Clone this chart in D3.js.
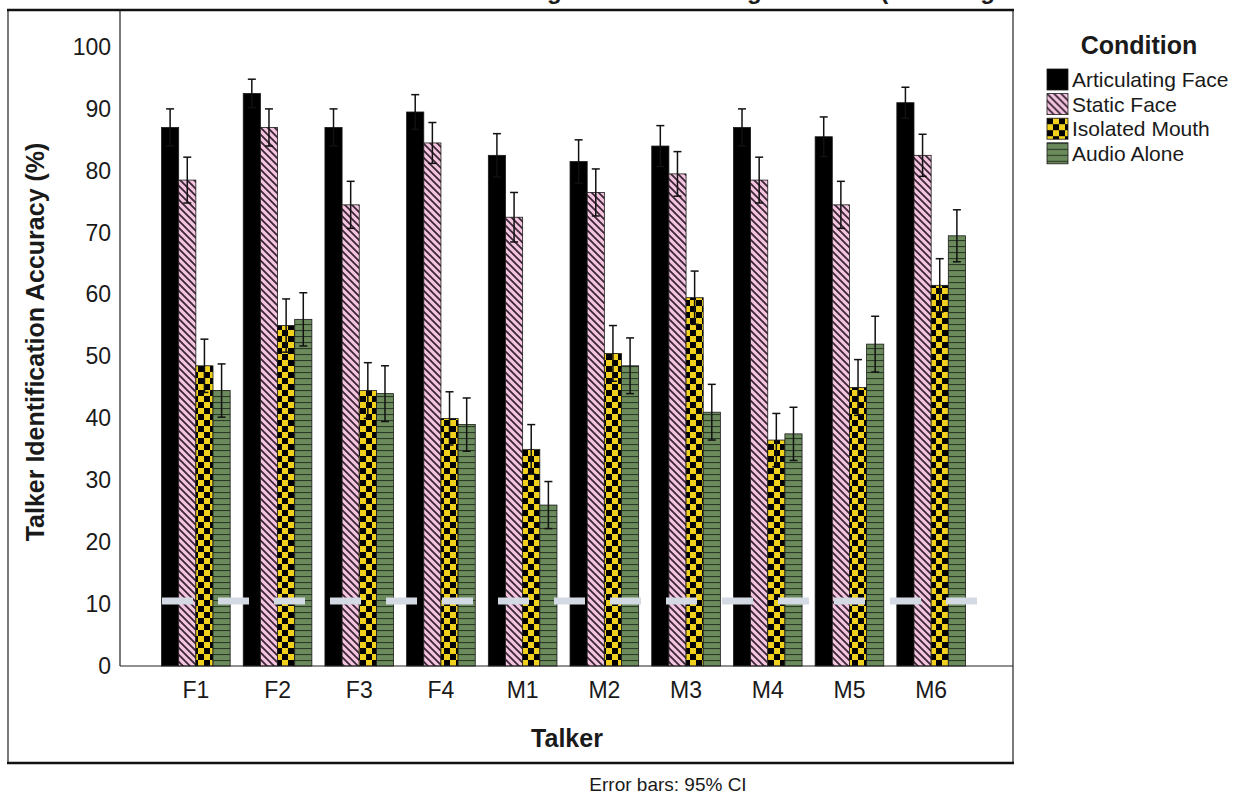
<!DOCTYPE html>
<html lang="en">
<head>
    <meta charset="UTF-8">
    <title>Talker Identification Accuracy</title>
    <script src="https://d3js.org/d3.v7.min.js"></script>
    <style>
        body { margin: 0; background: #fff; }
        text { font-family: "Liberation Sans", Arial, sans-serif; fill: #1a1a1a; }
    </style>
</head>
<body>
<script>
    const width  = 1236;
    const height = 796;

    // data
    const talkers    = ['F1', 'F2', 'F3', 'F4', 'M1', 'M2', 'M3', 'M4', 'M5', 'M6'];
    const conditions = ['Articulating Face', 'Static Face', 'Isolated Mouth', 'Audio Alone'];
    const articulating = [87, 92.5, 87, 89.5, 82.5, 81.5, 84, 87, 85.5, 91];
    const staticFace   = [78.5, 87, 74.5, 84.5, 72.5, 76.5, 79.5, 78.5, 74.5, 82.5];
    const mouth        = [48.5, 55, 44.5, 40, 35, 50.5, 59.5, 36.5, 45, 61.5];
    const audio        = [44.5, 56, 44, 39, 26, 48.5, 41, 37.5, 52, 69.5];
    const ciArticulating = [3, 2.3, 3, 2.8, 3.5, 3.5, 3.3, 3, 3.2, 2.5];
    const ciStatic       = [3.7, 3, 3.8, 3.3, 4, 3.8, 3.6, 3.7, 3.8, 3.4];
    const ciMouth        = [4.3, 4.3, 4.5, 4.3, 4, 4.5, 4.3, 4.3, 4.5, 4.3];
    const ciAudio        = [4.3, 4.3, 4.5, 4.3, 3.8, 4.5, 4.5, 4.3, 4.5, 4.2];
    const yTicks = [0, 10, 20, 30, 40, 50, 60, 70, 80, 90, 100];
    const chanceLevel = 10;

    const means = [articulating, staticFace, mouth, audio];
    const cis   = [ciArticulating, ciStatic, ciMouth, ciAudio];
    const fills = ['#000', 'url(#pStatic)', 'url(#pMouth)', 'url(#pAudio)'];

    const plot = {left: 120, right: 1013, top: 10, bottom: 666};
    const font = '"Liberation Sans", Arial, sans-serif';

    const svg = d3.select('body').append('svg')
        .attr('width', width).attr('height', height);

    // patterns
    const defs = svg.append('defs');
    const ps = defs.append('pattern').attr('id', 'pStatic')
        .attr('patternUnits', 'userSpaceOnUse').attr('width', 7).attr('height', 7);
    ps.append('rect').attr('width', 7).attr('height', 7).attr('fill', '#f4c4df');
    ps.append('path').attr('d', 'M0,0L7,7M-1,6L1,8M6,-1L8,1')
        .attr('stroke', '#3a2535').attr('stroke-width', 1.8);

    const pm = defs.append('pattern').attr('id', 'pMouth')
        .attr('patternUnits', 'userSpaceOnUse').attr('width', 12).attr('height', 12);
    pm.append('rect').attr('width', 12).attr('height', 12).attr('fill', '#f1d11e');
    pm.append('rect').attr('width', 6).attr('height', 6).attr('fill', '#000');
    pm.append('rect').attr('x', 6).attr('y', 6).attr('width', 6).attr('height', 6).attr('fill', '#000');

    const pa = defs.append('pattern').attr('id', 'pAudio')
        .attr('patternUnits', 'userSpaceOnUse').attr('width', 6).attr('height', 6);
    pa.append('rect').attr('width', 6).attr('height', 6).attr('fill', '#6c8b5c');
    pa.append('line').attr('x1', 0).attr('x2', 6).attr('y1', 0.5).attr('y2', 0.5)
        .attr('stroke', '#2a3a26').attr('stroke-width', 1.2);

    // title, clipped by the top edge as in the original (only descenders show)
    svg.append('text')
        .attr('x', 150).attr('y', -1)
        .style('font-size', '24px').style('font-weight', 'bold')
        .text('Mean Talker Identification Following Listener Training Sessions (Including All Test Blocks and Talkers)');

    const x = d3.scaleBand()
        .domain(talkers)
        .range([155, 972])
        .paddingInner(0.16)
        .paddingOuter(0.08);

    const xc = d3.scaleBand()
        .domain(conditions)
        .range([0, x.bandwidth()]);

    const y = d3.scaleLinear()
        .domain([0, 100])
        .range([plot.bottom, 47]);

    // bars
    conditions.forEach((c, ci) => {
        svg.append('g')
            .selectAll('rect')
            .data(talkers)
            .join('rect')
            .attr('x', t => x(t) + xc(c))
            .attr('y', (t, i) => y(means[ci][i]))
            .attr('width', xc.bandwidth())
            .attr('height', (t, i) => y(0) - y(means[ci][i]))
            .attr('fill', fills[ci])
            .attr('stroke', '#1a1a1a')
            .attr('stroke-width', 0.8);
    });

    // chance level dashes
    svg.append('line')
        .attr('x1', 162).attr('x2', 978)
        .attr('y1', y(chanceLevel) - 3).attr('y2', y(chanceLevel) - 3)
        .attr('stroke', '#d3dae4').attr('stroke-width', 7)
        .attr('stroke-dasharray', '31 25');

    // error bars
    conditions.forEach((c, ci) => {
        const g = svg.append('g').attr('stroke', '#111').attr('stroke-width', 1.5);
        talkers.forEach((t, i) => {
            const cx = x(t) + xc(c) + xc.bandwidth() / 2;
            const hi = y(means[ci][i] + cis[ci][i]);
            const lo = y(means[ci][i] - cis[ci][i]);
            g.append('line').attr('x1', cx).attr('x2', cx).attr('y1', hi).attr('y2', lo);
            g.append('line').attr('x1', cx - 4).attr('x2', cx + 4).attr('y1', hi).attr('y2', hi);
            g.append('line').attr('x1', cx - 4).attr('x2', cx + 4).attr('y1', lo).attr('y2', lo);
        });
    });

    // axes
    const yAxis = svg.append('g')
        .attr('transform', 'translate(' + plot.left + ',0)')
        .call(d3.axisLeft(y).tickValues(yTicks).tickSize(0).tickPadding(9));
    yAxis.select('.domain').remove();
    yAxis.selectAll('text')
        .style('font-size', '23px').style('font-family', font)
        .attr('fill', '#1a1a1a');

    const xAxis = svg.append('g')
        .attr('transform', 'translate(0,' + plot.bottom + ')')
        .call(d3.axisBottom(x).tickSize(0).tickPadding(16));
    xAxis.select('.domain').remove();
    xAxis.selectAll('text')
        .style('font-size', '23px').style('font-family', font)
        .attr('fill', '#1a1a1a');

    // frame and axis lines
    svg.append('rect')
        .attr('x', 8).attr('y', 10)
        .attr('width', plot.right - 8).attr('height', 753)
        .attr('fill', 'none').attr('stroke', '#222').attr('stroke-width', 1.2);
    svg.append('line').attr('x1', 7).attr('x2', plot.right + 1)
        .attr('y1', 10).attr('y2', 10).attr('stroke', '#111').attr('stroke-width', 2.5);
    svg.append('line').attr('x1', 7).attr('x2', plot.right + 1)
        .attr('y1', 763).attr('y2', 763).attr('stroke', '#111').attr('stroke-width', 2.5);
    svg.append('line').attr('x1', plot.left).attr('x2', plot.left)
        .attr('y1', plot.top).attr('y2', plot.bottom).attr('stroke', '#222').attr('stroke-width', 1.2);
    svg.append('line').attr('x1', plot.left).attr('x2', plot.right)
        .attr('y1', plot.bottom).attr('y2', plot.bottom).attr('stroke', '#222').attr('stroke-width', 1.2);

    // axis titles
    svg.append('text')
        .attr('transform', 'translate(44,342) rotate(-90)')
        .attr('text-anchor', 'middle')
        .style('font-size', '25px').style('font-weight', 'bold')
        .text('Talker Identification Accuracy (%)');

    svg.append('text')
        .attr('x', 567).attr('y', 747)
        .attr('text-anchor', 'middle')
        .style('font-size', '25px').style('font-weight', 'bold')
        .text('Talker');

    svg.append('text')
        .attr('x', 668).attr('y', 791)
        .attr('text-anchor', 'middle')
        .style('font-size', '19px')
        .text('Error bars: 95% CI');

    // legend
    svg.append('text')
        .attr('x', 1139).attr('y', 54)
        .attr('text-anchor', 'middle')
        .style('font-size', '25px').style('font-weight', 'bold')
        .text('Condition');

    const legend = svg.append('g').attr('transform', 'translate(1047,69)');
    const rows = legend.selectAll('g')
        .data(conditions)
        .join('g')
        .attr('transform', (d, i) => 'translate(0,' + (i * 24.6) + ')');
    rows.append('rect')
        .attr('width', 21).attr('height', 21)
        .attr('fill', (d, i) => fills[i])
        .attr('stroke', '#1a1a1a').attr('stroke-width', 0.8);
    rows.append('text')
        .attr('x', 25).attr('y', 18)
        .style('font-size', '21px')
        .text(d => d);
</script>
</body>
</html>
